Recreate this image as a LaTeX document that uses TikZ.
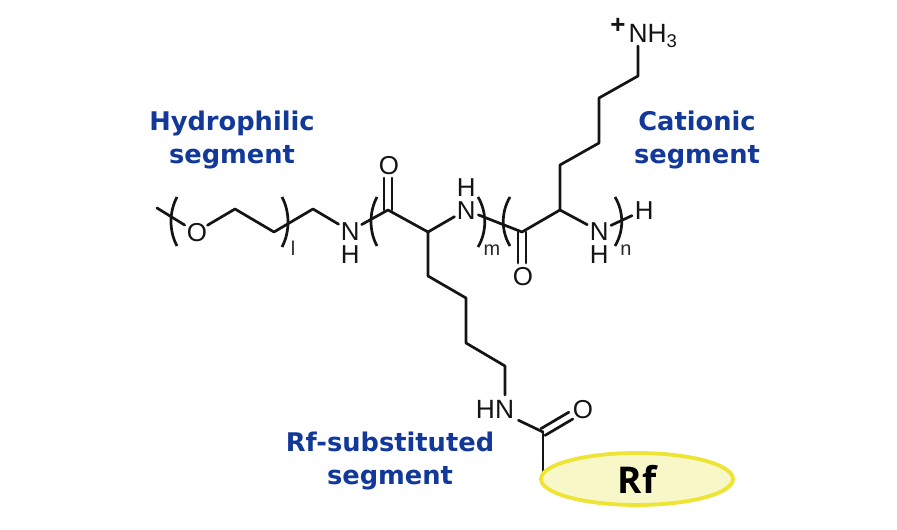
\documentclass[tikz,border=0pt]{standalone}
\usepackage{fontspec}
\usetikzlibrary{shapes.geometric}
\setmainfont{Liberation Sans}
\newfontfamily\labfont{DejaVu Sans}
\newfontfamily\rffont{Open Sans}
\definecolor{labblue}{HTML}{12399A}
\definecolor{rffill}{HTML}{F7F7C8}
\definecolor{rfline}{HTML}{EEE433}
\tikzset{
  bond/.style={line width=2.7bp,line cap=round,line join=round,black!92},
  brk/.style={line width=2.7bp,line cap=butt,black!92},
  atom/.style={circle,inner sep=0pt,text height=18.5bp,text depth=0pt,text width=18.5bp,align=center,font=\fontsize{26}{26}\selectfont,text=black!92},
  subs/.style={inner sep=0pt,font=\fontsize{20}{20}\selectfont,text=black!85},
  seglab/.style={align=center,inner sep=0pt,font=\labfont\bfseries\fontsize{25.8}{33}\selectfont,text=labblue},
}
\begin{document}
\begin{tikzpicture}[x=1bp,y=-1bp]
\path[use as bounding box,fill=white] (0,0) rectangle (897,530);
% atoms
\node[atom] (O1) at (196,232) {O};
\node[atom] (N1) at (350,231) {N};
\node[atom] (H1) at (350,254) {H};
\node[atom] (O2) at (388,165) {O};
\node[atom] (N2) at (466,210) {N};
\node[atom] (H2) at (466,187) {H};
\node[atom] (O3) at (522,276) {O};
\node[atom] (N3) at (599,231) {N};
\node[atom] (H3) at (599,254) {H};
\node[atom] (H4) at (644,210) {H};
\node[inner sep=0pt,font=\fontsize{26.5}{26.5}\selectfont,text=black!92] (NH3txt) at (653,36) {NH\textsubscript{3}};
\node[inner sep=0pt,font=\bfseries\fontsize{26}{26}\selectfont,text=black!92] (plus) at (618,26) {+};
\coordinate (NH3b) at (638,46);
\node[inner sep=0pt,font=\fontsize{26.5}{26.5}\selectfont,text=black!92] (HN) at (495,409) {HN};
\node[atom] (O4) at (582,409) {O};
% vertices
\coordinate (s) at (157,208);
\coordinate (a1) at (235,209);
\coordinate (a2) at (274,232);
\coordinate (a3) at (313,209);
\coordinate (c1) at (388,210);
\coordinate (c2) at (428,232);
\coordinate (c3) at (522,232);
\coordinate (c4) at (560,210);
\coordinate (u1) at (560,165);
\coordinate (u2) at (599,143);
\coordinate (u3) at (599,98);
\coordinate (u4) at (638,76);
\coordinate (d1) at (428,276);
\coordinate (d2) at (466,298);
\coordinate (d3) at (466,343);
\coordinate (d4) at (505,366);
\coordinate (d5) at (505,395);
\coordinate (c5) at (543,432);
\coordinate (e1) at (543,472);
% Rf
\draw[bond] (c5) -- (e1);
\node[ellipse,minimum width=192bp,minimum height=52bp,inner sep=0pt,fill=rffill,draw=rfline,line width=3.8bp,font=\rffont\bfseries\fontsize{37}{37}\selectfont,text=black] (Rf) at (637,479) {\raisebox{-2.5bp}{Rf}};
% bonds
\draw[bond] (s) -- (O1) -- (a1) -- (a2) -- (a3) -- (N1) -- (c1) -- (c2) -- (N2) -- (c3) -- (c4) -- (N3) -- (H4);
\draw[bond] (c4) -- (u1) -- (u2) -- (u3) -- (u4) -- (NH3b);
\draw[bond] (c2) -- (d1) -- (d2) -- (d3) -- (d4) -- (d5);
\draw[bond,shorten <=0bp,shorten >=26bp] (c5) -- (HN.center);
\draw[bond,shorten >=13bp] ([xshift=-4]c1) -- ([xshift=-4]O2.center);
\draw[bond,shorten >=13bp] ([xshift=4]c1) -- ([xshift=4]O2.center);
\draw[bond,shorten >=13bp] ([xshift=-4]c3) -- ([xshift=-4]O3.center);
\draw[bond,shorten >=13bp] ([xshift=4]c3) -- ([xshift=4]O3.center);
\draw[bond,shorten >=13bp] ([shift={(-2,-3.4)}]c5) -- ([shift={(-2,-3.4)}]O4.center);
\draw[bond,shorten >=13bp] ([shift={(2,3.4)}]c5) -- ([shift={(2,3.4)}]O4.center);
% brackets
\draw[brk] (177,197) .. controls (169,212) and (169,231) .. (177,246);
\draw[brk] (282,197) .. controls (290,212) and (290,232) .. (282,247);
\draw[brk] (377,197) .. controls (369,212) and (369,231) .. (377,246);
\draw[brk] (478,197) .. controls (487,212) and (487,232) .. (478,247);
\draw[brk] (510,197) .. controls (501,212) and (501,231) .. (510,246);
\draw[brk] (615,197) .. controls (624,212) and (624,231) .. (615,246);
\node[subs] (sl) at (293,248) {l};
\node[subs] (sm) at (492,250) {m};
\node[subs] (sn) at (626,250) {n};
% labels
\node[seglab] (L1) at (232,140) {Hydrophilic\\segment};
\node[seglab] (L2) at (697,140) {Cationic\\segment};
\node[seglab] (L3) at (390,461) {Rf-substituted\\segment};
\end{tikzpicture}
\end{document}
